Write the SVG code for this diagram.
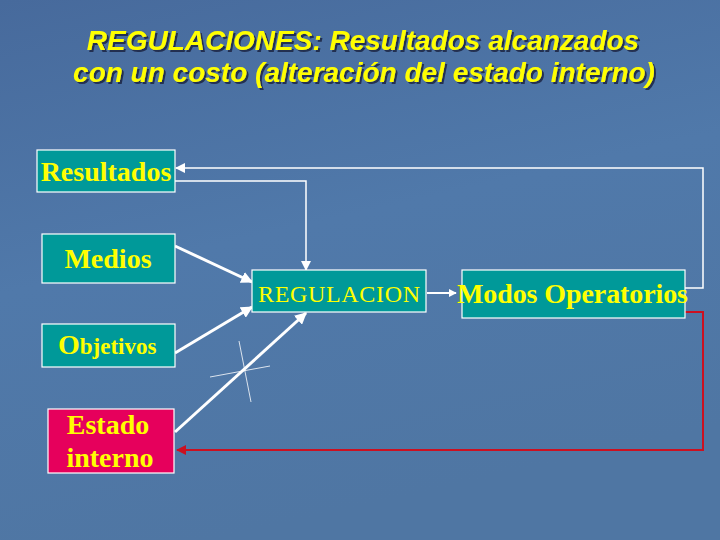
<svg xmlns="http://www.w3.org/2000/svg" width="720" height="540" viewBox="0 0 720 540">
<defs>
<linearGradient id="bg" x1="0" y1="0" x2="0.3" y2="1">
<stop offset="0" stop-color="#476a9c"/>
<stop offset="0.5" stop-color="#5079aa"/>
<stop offset="1" stop-color="#4f76a3"/>
</linearGradient>
<filter id="sh" x="-5%" y="-20%" width="110%" height="150%">
<feDropShadow dx="2" dy="2" stdDeviation="0.6" flood-color="#1a2a48" flood-opacity="0.9"/>
</filter>
<marker id="aw" viewBox="0 0 10 10" refX="9" refY="5" markerWidth="4" markerHeight="4" orient="auto" markerUnits="strokeWidth">
<path d="M0,0 L10,5 L0,10 z" fill="#ffffff"/>
</marker>
<marker id="awt" viewBox="0 0 10 10" refX="9" refY="5" markerWidth="7" markerHeight="7" orient="auto" markerUnits="strokeWidth">
<path d="M0,0 L10,5 L0,10 z" fill="#ffffff"/>
</marker>
<marker id="ar" viewBox="0 0 10 10" refX="9" refY="5" markerWidth="5" markerHeight="5" orient="auto" markerUnits="strokeWidth">
<path d="M0,0 L10,5 L0,10 z" fill="#cc1020"/>
</marker>
</defs>
<style>
.box{fill:#009999;stroke:#ffffff;stroke-width:1.2}
.lbl{font-family:"Liberation Serif","Times New Roman",serif;font-weight:bold;font-size:28px;fill:#ffff00}
.title{font-family:"Liberation Sans",Arial,sans-serif;font-weight:bold;font-style:italic;font-size:28px;fill:#ffff00;filter:url(#sh)}
.w{fill:none;stroke:#ffffff}
</style>
<rect x="0" y="0" width="720" height="540" fill="url(#bg)"/>
<g id="title">
<text class="title" x="363" y="50" text-anchor="middle">REGULACIONES: Resultados alcanzados</text>
<text class="title" x="364" y="82" text-anchor="middle">con un costo (alteración del estado interno)</text>
</g>
<g id="connectors">
<polyline class="w" stroke-width="1.5" points="685,288 703,288 703,168 176,168" marker-end="url(#awt)"/>
<polyline class="w" stroke-width="1.5" points="175,181 306,181 306,270" marker-end="url(#awt)"/>
<line class="w" stroke-width="3" x1="175" y1="246" x2="252" y2="282" marker-end="url(#aw)"/>
<line class="w" stroke-width="3" x1="175" y1="353" x2="252" y2="307" marker-end="url(#aw)"/>
<line class="w" stroke-width="3" x1="175" y1="432" x2="306" y2="313" marker-end="url(#aw)"/>
<line class="w" stroke-width="2" x1="427" y1="293" x2="456" y2="293" marker-end="url(#aw)"/>
<polyline fill="none" stroke="#cc1020" stroke-width="2" points="685,312 703,312 703,450 177,450" marker-end="url(#ar)"/>
<line class="w" stroke-width="0.8" x1="239" y1="341" x2="251" y2="402"/>
<line class="w" stroke-width="0.8" x1="210" y1="377" x2="270" y2="366"/>
</g>
<g id="resultados">
<rect class="box" x="37" y="150" width="138" height="42"/>
<text class="lbl" x="106" y="181" text-anchor="middle">Resultados</text>
</g>
<g id="medios">
<rect class="box" x="42" y="234" width="133" height="49"/>
<text class="lbl" x="108" y="268" text-anchor="middle">Medios</text>
</g>
<g id="objetivos">
<rect class="box" x="42" y="324" width="133" height="43"/>
<text class="lbl" x="58" y="354"><tspan>O</tspan><tspan font-size="23">bjetivos</tspan></text>
</g>
<g id="estado">
<rect x="48" y="409" width="126" height="64" fill="#e6005c" stroke="#ffffff" stroke-width="1.2"/>
<text class="lbl" x="108" y="434" text-anchor="middle">Estado</text>
<text class="lbl" x="110" y="467" text-anchor="middle">interno</text>
</g>
<g id="regulacion">
<rect class="box" x="252" y="270" width="174" height="42"/>
<text x="339" y="302" text-anchor="middle" font-family="'Liberation Serif','Times New Roman',serif" font-size="24" fill="#ffff00" textLength="162">REGULACION</text>
</g>
<g id="modos">
<rect class="box" x="462" y="270" width="223" height="48"/>
<text class="lbl" x="457" y="303" textLength="231">Modos Operatorios</text>
</g>
</svg>
